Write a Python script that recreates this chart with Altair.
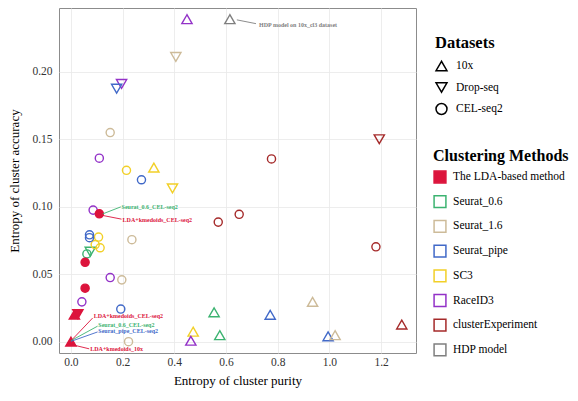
import altair as alt
import pandas as pd

FONT = "Liberation Serif"

methods = ["The LDA-based method", "Seurat_0.6", "Seurat_1.6", "Seurat_pipe",
           "SC3", "RaceID3", "clusterExperiment", "HDP model"]
method_colors = ["#DC143C", "#3CB371", "#CDBB99", "#4169C8",
                 "#F2D028", "#9332C8", "#A52A2A", "#7F7F7F"]
method_fills = ["#DC143C"] + ["transparent"] * 7
datasets = ["10x", "Drop-seq", "CEL-seq2"]

# points: method, dataset, entropy of purity, entropy of accuracy
pt_method = [
    # 10x
    "RaceID3", "HDP model", "SC3", "Seurat_0.6", "Seurat_0.6", "Seurat_pipe", "Seurat_pipe",
    "Seurat_1.6", "Seurat_1.6", "SC3", "RaceID3", "clusterExperiment",
    # Drop-seq
    "Seurat_1.6", "RaceID3", "Seurat_pipe", "SC3", "clusterExperiment", "Seurat_0.6",
    # CEL-seq2
    "Seurat_1.6", "Seurat_1.6", "Seurat_1.6", "Seurat_1.6",
    "RaceID3", "RaceID3", "RaceID3", "RaceID3",
    "SC3", "SC3", "SC3", "SC3",
    "Seurat_pipe", "Seurat_pipe", "Seurat_pipe", "Seurat_pipe",
    "clusterExperiment", "clusterExperiment", "clusterExperiment", "clusterExperiment",
    "Seurat_0.6",
    # LDA-based
    "The LDA-based method", "The LDA-based method", "The LDA-based method",
    "The LDA-based method", "The LDA-based method", "The LDA-based method",
]
pt_dataset = (["10x"] * 12 + ["Drop-seq"] * 6 + ["CEL-seq2"] * 21
              + ["10x", "10x", "Drop-seq", "CEL-seq2", "CEL-seq2", "CEL-seq2"])
pt_x = [0.449, 0.615, 0.321, 0.554, 0.576, 0.771, 0.995, 1.022, 0.935, 0.473, 0.464, 1.280,
        0.406, 0.196, 0.177, 0.393, 1.193, 0.075,
        0.152, 0.236, 0.197, 0.223,
        0.110, 0.086, 0.152, 0.0425,
        0.215, 0.107, 0.094, 0.113,
        0.273, 0.072, 0.072, 0.193,
        0.776, 1.180, 0.570, 0.651,
        0.062,
        0.0, 0.0135, 0.027, 0.110, 0.055, 0.055]
pt_y = [0.239, 0.239, 0.129, 0.0218, 0.0048, 0.0199, 0.0040, 0.0048, 0.0295, 0.0074, 0.0007, 0.0127,
        0.211, 0.191, 0.1875, 0.1136, 0.150, 0.0667,
        0.155, 0.0756, 0.0458, 0.0,
        0.136, 0.0975, 0.0475, 0.0295,
        0.127, 0.0775, 0.072, 0.0696,
        0.120, 0.0792, 0.0771, 0.0242,
        0.1354, 0.0703, 0.0886, 0.0944,
        0.065,
        0.0, 0.020, 0.0204, 0.0948, 0.0588, 0.0396]

# annotations
ann_text = ["HDP model on 10x_cl3 dataset", "Seurat_0.6_CEL-seq2", "LDA+kmedoids_CEL-seq2",
            "LDA+kmedoids_CEL-seq2", "Seurat_0.6_CEL-seq2", "Seurat_pipe_CEL-seq2",
            "LDA+kmedoids_10x"]
ann_method = ["HDP model", "Seurat_0.6", "The LDA-based method",
              "The LDA-based method", "Seurat_0.6", "Seurat_pipe", "The LDA-based method"]
ann_x = [0.728, 0.196, 0.200, 0.088, 0.106, 0.106, 0.075]
ann_y = [0.2349, 0.0999, 0.0903, 0.0187, 0.0127, 0.0076, -0.0058]
seg_x = [0.642, 0.123, 0.116, 0.0066, 0.0, 0.0, 0.0193]
seg_y = [0.2385, 0.0947, 0.0938, 0.0019, 0.0007, 0.0002, -0.0029]
seg_x2 = [0.716, 0.193, 0.196, 0.084, 0.1033, 0.1033, 0.0708]
seg_y2 = [0.2357, 0.0999, 0.0908, 0.0175, 0.0115, 0.0072, -0.0053]

x_ticks = [0.0, 0.2, 0.4, 0.6, 0.8, 1.0, 1.2]
y_ticks = [0.0, 0.05, 0.10, 0.15, 0.20]

pts = pd.DataFrame({"method": pt_method, "dataset": pt_dataset,
                    "purity": pt_x, "accuracy": pt_y})
ann = pd.DataFrame({"text": ann_text, "method": ann_method, "purity": ann_x,
                    "accuracy": ann_y, "sx": seg_x, "sy": seg_y, "sx2": seg_x2, "sy2": seg_y2})

xscale = alt.Scale(domain=[-0.046, 1.335], nice=False, zero=False)
yscale = alt.Scale(domain=[-0.0084, 0.2473], nice=False, zero=False)

xenc = alt.X("purity:Q", scale=xscale,
             axis=alt.Axis(values=x_ticks, format=".1f", title="Entropy of cluster purity",
                           titleFontSize=13, titlePadding=7, labelPadding=3))
yenc = alt.Y("accuracy:Q", scale=yscale,
             axis=alt.Axis(values=y_ticks, format=".2f", title="Entropy of cluster accuracy",
                           titleFontSize=13, titlePadding=10, labelPadding=7))

leg_common = dict(orient="none", titleFont=FONT, titleFontWeight="bold",
                  titleColor="black", labelFont=FONT, labelFontSize=11.5, labelColor="black",
                  symbolStrokeWidth=1.5, padding=0)

shape_leg = alt.Legend(title="Datasets", legendX=376, legendY=27, symbolSize=120,
                       titleFontSize=16.5,
                       symbolStrokeColor="black", symbolFillColor="transparent",
                       rowPadding=4.5, titlePadding=8, labelOffset=8, **leg_common)
meth_leg = alt.Legend(title="Clustering Methods", legendX=374, legendY=140, symbolType="square",
                      titleFontSize=16,
                      symbolSize=140, rowPadding=6.7, titlePadding=6, labelOffset=6, **leg_common)

shape_enc = alt.Shape("dataset:N", scale=alt.Scale(domain=datasets,
                      range=["triangle-up", "triangle-down", "circle"]), legend=shape_leg)
stroke_enc = alt.Stroke("method:N", scale=alt.Scale(domain=methods, range=method_colors),
                        legend=meth_leg)
fill_enc = alt.Fill("method:N", scale=alt.Scale(domain=methods, range=method_fills),
                    legend=meth_leg)

base = alt.Chart(pts).encode(x=xenc, y=yenc, shape=shape_enc, stroke=stroke_enc, fill=fill_enc)

triangles = base.transform_filter(alt.datum.dataset != "CEL-seq2").mark_point(
    strokeWidth=1.4, opacity=1, size=105)
circles = base.transform_filter(alt.datum.dataset == "CEL-seq2").mark_point(
    strokeWidth=1.4, opacity=1, size=66)

color_scale = alt.Scale(domain=methods, range=method_colors)

segs = alt.Chart(ann).mark_rule(strokeWidth=0.9).encode(
    x=alt.X("sx:Q", scale=xscale), y=alt.Y("sy:Q", scale=yscale),
    x2="sx2:Q", y2="sy2:Q",
    color=alt.Color("method:N", scale=color_scale, legend=None),
)

labels = alt.Chart(ann).mark_text(align="left", baseline="middle", fontSize=6,
                                  fontWeight="bold", font=FONT).encode(
    x=alt.X("purity:Q", scale=xscale), y=alt.Y("accuracy:Q", scale=yscale),
    text="text:N",
    color=alt.Color("method:N", scale=color_scale, legend=None),
)

chart = alt.layer(triangles, circles, segs, labels).properties(
    width=357, height=345, padding={"left": 0, "top": 0, "right": 0, "bottom": 0}
).configure(font=FONT).configure_view(
    stroke="#8c8c8c", strokeWidth=1
).configure_axis(
    labelFont=FONT, titleFont=FONT, labelFontSize=11.5, labelColor="#333333",
    titleColor="black", titleFontWeight="normal", domain=False, ticks=False,
    grid=True, gridColor="#e8e8e8", gridWidth=0.8
)

chart.save("out.html", embed_options={"renderer": "svg", "actions": False})
